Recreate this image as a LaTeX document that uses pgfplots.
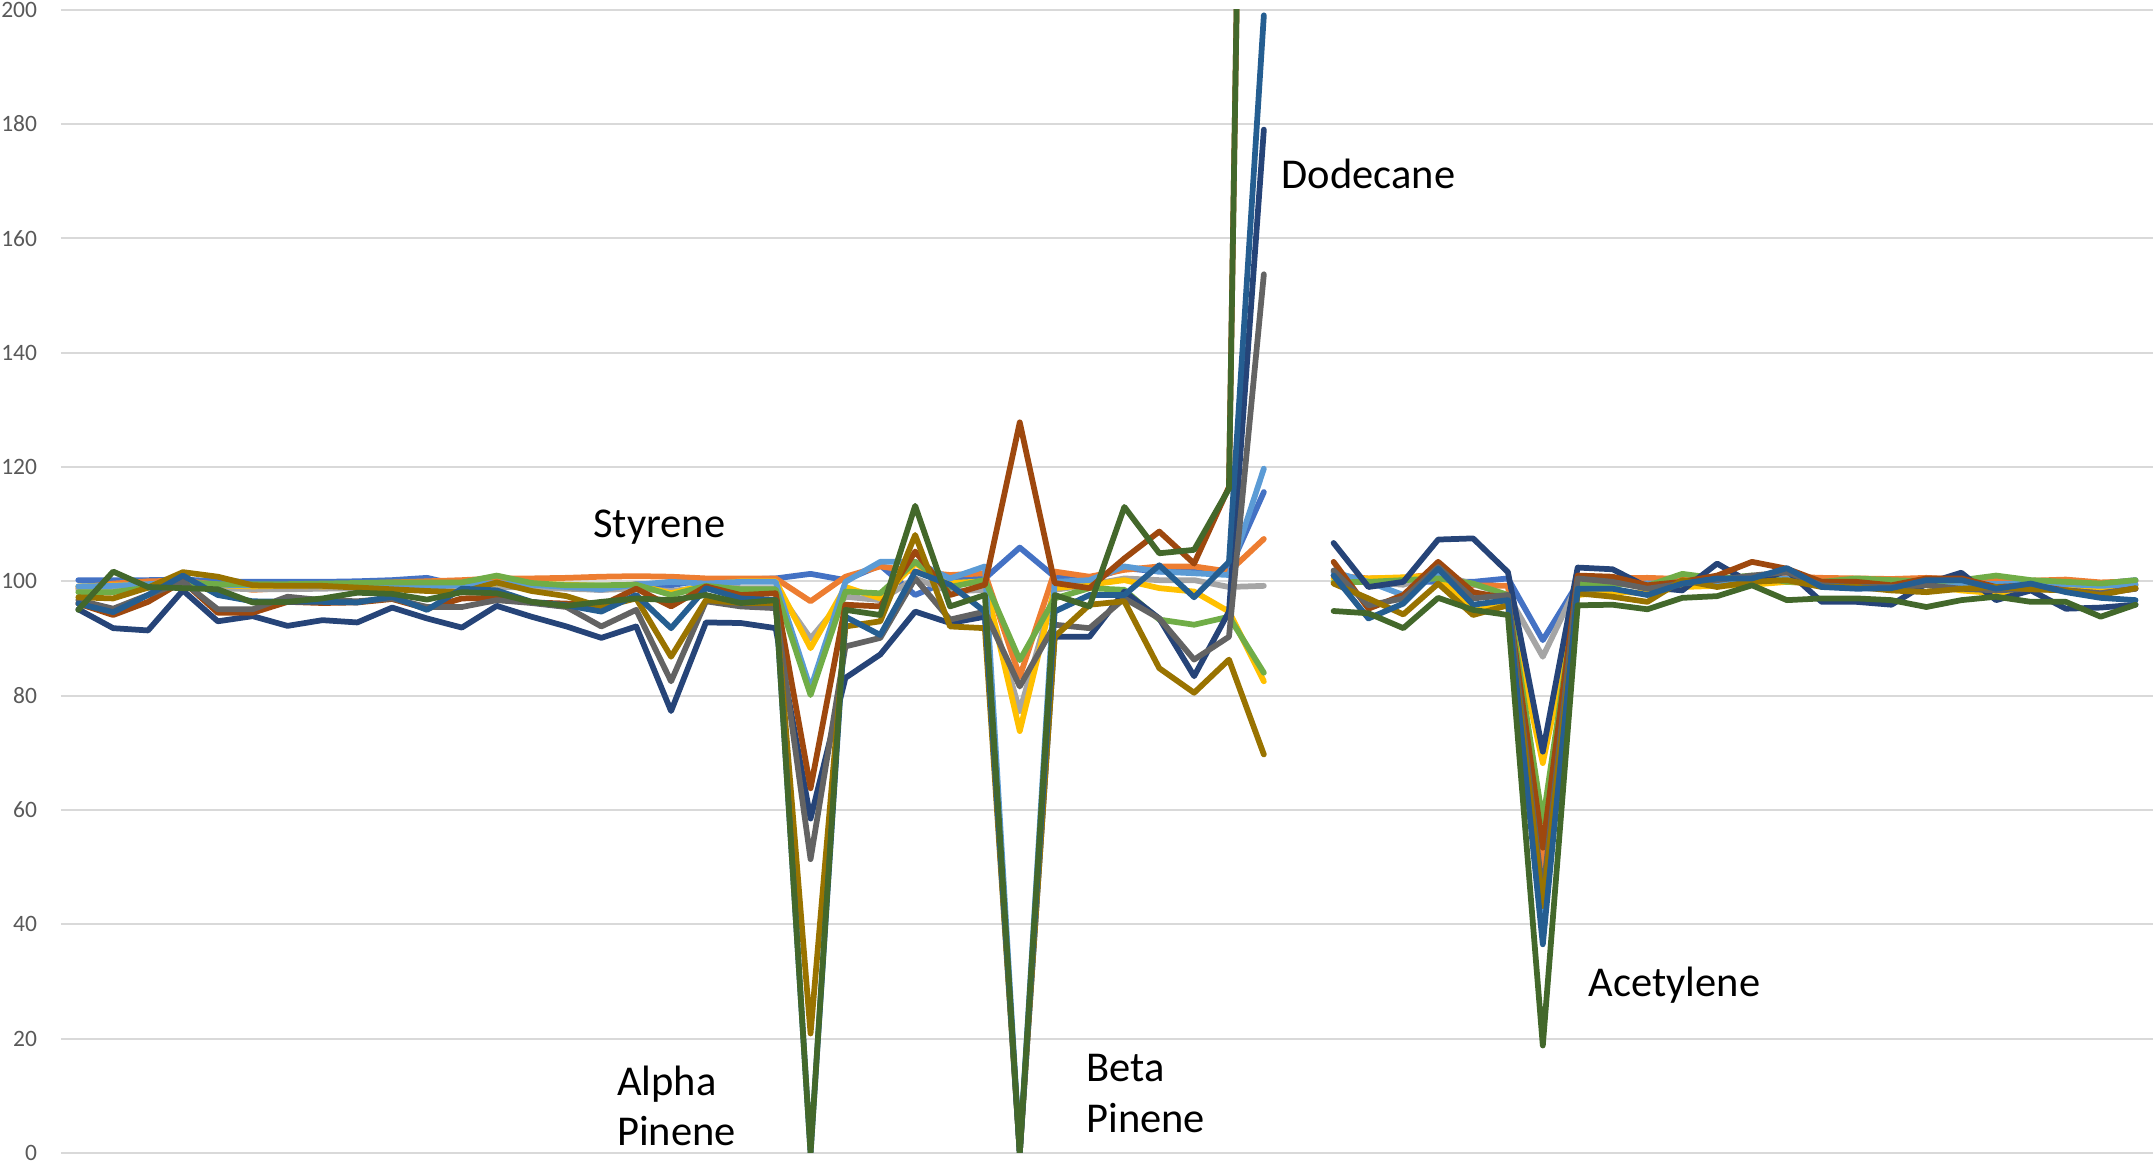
\documentclass[border=0pt]{standalone}
\usepackage{fontspec}
\setmainfont{Carlito}
\usepackage{pgfplots}
\usepackage{pgfplotstable}
\pgfplotsset{compat=1.18}
\definecolor{cA}{HTML}{4472C4}
\definecolor{cB}{HTML}{ED7D31}
\definecolor{cC}{HTML}{A5A5A5}
\definecolor{cD}{HTML}{FFC000}
\definecolor{cE}{HTML}{5B9BD5}
\definecolor{cF}{HTML}{70AD47}
\definecolor{cG}{HTML}{264478}
\definecolor{cH}{HTML}{9E480E}
\definecolor{cI}{HTML}{636363}
\definecolor{cJ}{HTML}{997300}
\definecolor{cK}{HTML}{255E91}
\definecolor{cL}{HTML}{43682B}
\definecolor{gridc}{HTML}{D9D9D9}
\definecolor{tickc}{HTML}{595959}

\pgfplotstableread{
i A B C D E F G H I J K L
0 100.2 98.8 98.5 99.1 99.1 98.1 95.1 96.1 96.7 97.2 96.1 95.0
1 100.2 99.6 98.6 99.3 99.2 98.1 91.8 94.1 95.2 97.0 94.6 101.7
2 100.2 100.0 98.8 99.4 99.5 98.9 91.4 96.4 97.6 98.9 97.6 99.0
3 100.3 100.1 99.3 99.6 99.8 99.8 98.4 100.0 99.9 101.6 101.0 98.8
4 100.0 99.4 98.8 99.3 99.4 99.5 93.0 94.5 95.1 100.8 97.6 98.6
5 99.9 98.5 98.6 99.1 99.3 99.5 93.9 94.5 95.1 99.3 96.5 96.3
6 99.9 98.8 98.6 99.2 99.3 99.5 92.2 96.4 97.3 99.2 96.4 96.4
7 99.9 99.2 98.7 99.1 99.2 99.6 93.2 96.2 96.7 99.2 96.4 97.0
8 100.0 99.6 98.8 99.2 99.3 99.7 92.8 96.3 96.5 98.9 96.3 98.0
9 100.2 99.8 98.7 99.2 99.2 99.8 95.4 96.9 97.0 98.6 97.3 97.8
10 100.6 100.0 98.6 99.4 99.0 99.8 93.5 95.2 95.5 98.3 95.0 96.8
11 99.2 100.2 98.8 99.5 99.4 99.8 91.9 97.0 95.5 98.1 98.7 98.1
12 99.2 100.5 99.0 99.6 99.7 101.0 95.7 97.1 96.7 99.8 98.4 97.9
13 99.2 100.5 98.9 99.6 99.4 99.7 93.8 96.3 96.2 98.3 96.4 96.4
14 98.9 100.6 98.7 99.4 99.0 99.3 92.1 96.1 95.5 97.4 95.8 95.7
15 98.5 100.8 98.5 99.2 98.6 99.3 90.1 95.8 92.1 95.5 94.7 96.4
16 99.5 100.9 98.7 99.4 99.4 99.4 92.1 98.7 95.0 97.0 97.6 97.0
17 99.3 100.8 98.3 97.9 99.9 97.6 77.3 95.6 82.5 86.8 91.8 96.7
18 100.3 100.5 99.0 99.4 99.6 99.2 92.8 99.1 96.5 96.7 98.8 97.6
19 100.3 100.5 98.8 100.0 99.9 98.6 92.7 97.6 95.6 96.2 97.0 96.2
20 100.5 100.5 98.8 100.0 99.9 98.6 91.8 97.9 95.3 96.2 96.7 96.7
21 101.3 96.5 90.0 88.3 81.2 80.1 58.5 63.8 51.4 20.9 0 0
22 100.2 100.8 97.3 99.0 99.9 98.2 83.1 95.9 88.6 92.1 93.8 95.0
23 102.8 102.6 96.7 97.0 103.4 97.9 87.2 95.6 90.1 93.0 90.6 94.1
24 97.6 101.7 100.5 103.1 103.4 103.4 94.7 105.2 100.5 108.1 101.7 113.2
25 100.2 101.1 98.2 99.7 100.5 99.0 92.7 97.6 93.3 92.1 99.4 95.6
26 100.5 101.4 98.5 100.0 102.6 100.2 93.8 99.4 94.7 91.8 94.7 97.6
27 105.9 83.3 77.3 73.8 0 86.2 0 127.8 81.6 0 0 0
28 100.8 101.7 98.5 98.8 99.9 97.0 90.3 99.7 92.4 90.3 94.7 97.6
29 100.2 100.8 99.4 99.4 100.2 98.8 90.3 98.8 91.8 95.9 97.6 95.6
30 102.3 102.0 100.5 100.2 102.6 98.5 98.2 104.0 97.0 96.5 97.6 113.0
31 101.7 102.6 100.2 98.8 101.7 93.3 93.5 108.7 93.5 84.8 102.8 104.9
32 101.7 102.6 100.2 98.2 101.4 92.4 83.4 103.1 86.3 80.5 97.2 105.5
33 102.0 101.7 99.0 94.7 101.1 93.8 94.7 116.5 90.3 86.3 103.4 116.2
34 115.6 107.4 99.2 82.5 119.7 84.0 179.0 500 153.7 69.7 199.0 500
35 nan nan nan nan nan nan nan nan nan nan nan nan
36 101.0 101.0 101.6 100.5 101.6 99.8 106.7 103.4 101.9 99.6 101.0 94.8
37 99.9 100.5 99.8 100.5 99.9 99.9 99.0 95.2 95.8 97.0 93.5 94.4
38 99.9 100.6 99.4 100.7 97.6 100.2 99.9 97.6 97.0 94.2 96.1 91.8
39 99.9 101.3 101.3 101.0 101.3 100.5 107.3 103.4 102.5 99.6 102.2 97.1
40 99.9 99.3 99.5 94.7 97.6 99.6 107.5 98.1 97.0 94.1 95.9 95.0
41 100.5 99.2 97.6 96.4 97.3 97.6 101.6 97.0 97.6 95.8 96.7 94.1
42 89.7 50.0 86.8 68.2 38.0 58.0 70.2 53.4 45.0 43.2 36.5 18.8
43 99.6 100.2 99.5 97.6 99.4 99.6 102.4 101.0 100.5 97.9 98.7 95.8
44 99.9 100.5 99.6 98.2 99.5 99.6 102.1 100.8 99.9 97.3 98.7 95.9
45 99.6 100.6 99.4 97.9 99.6 99.2 99.0 99.3 98.7 96.4 97.6 95.1
46 99.6 100.4 99.5 99.0 99.8 101.3 98.4 99.9 99.6 100.2 99.6 97.1
47 100.2 100.3 99.7 99.2 100.0 100.5 103.1 101.0 100.2 99.0 100.5 97.4
48 100.5 100.5 99.8 99.4 100.3 101.0 99.6 103.4 101.0 99.9 100.5 99.3
49 100.8 100.8 99.9 99.9 100.5 99.9 101.9 102.2 101.6 100.2 102.3 96.7
50 100.5 100.6 99.5 99.6 99.9 99.9 96.4 99.9 99.3 99.0 99.0 97.0
51 100.2 100.5 99.4 99.6 99.7 100.5 96.4 99.9 99.0 99.0 98.7 97.0
52 100.2 100.4 99.5 99.2 99.8 100.2 95.9 99.3 99.0 98.4 98.8 96.7
53 100.5 100.6 99.6 99.3 99.9 100.0 99.6 100.5 99.3 98.1 100.2 95.5
54 100.2 100.3 99.4 98.4 99.7 100.2 101.5 100.5 98.7 98.7 100.2 96.7
55 99.9 100.2 99.3 97.9 99.5 101.0 96.7 99.0 98.4 99.0 98.7 97.3
56 99.9 100.1 99.4 98.8 99.7 100.2 98.4 99.3 98.7 98.6 99.6 96.4
57 99.9 100.3 99.2 98.8 99.5 99.9 95.2 98.4 98.4 98.4 98.1 96.4
58 99.6 99.8 99.0 98.9 99.2 99.6 95.4 97.9 97.9 97.6 97.1 93.8
59 100.2 100.0 99.3 99.3 99.5 100.2 95.9 98.7 98.7 98.8 96.7 95.9
}\data

\begin{document}
\begin{tikzpicture}
\begin{axis}[
  scale only axis,
  width=837.1pt, height=457.5pt,
  xmin=-0.5, xmax=59.5, ymin=0, ymax=200,
  axis line style={draw=none},
  xtick=\empty,
  ytick={0,20,...,200},
  ymajorgrids,
  major grid style={color=gridc, line width=0.8pt},
  tick style={draw=none},
  /pgf/number format/assume math mode=true,
  yticklabel style={font=\fontsize{9.4}{11}\selectfont, text=tickc, xshift=-6pt},
  clip mode=individual,
  unbounded coords=jump,
  every axis plot/.append style={line width=2.3pt, line join=round, line cap=round, no markers},
]
\addplot[cA] table[x=i,y=A]{\data};
\addplot[cB] table[x=i,y=B]{\data};
\addplot[cC] table[x=i,y=C]{\data};
\addplot[cD] table[x=i,y=D]{\data};
\addplot[cE] table[x=i,y=E]{\data};
\addplot[cF] table[x=i,y=F]{\data};
\addplot[cG] table[x=i,y=G]{\data};
\addplot[cH] table[x=i,y=H]{\data};
\addplot[cI] table[x=i,y=I]{\data};
\addplot[cJ] table[x=i,y=J]{\data};
\addplot[cK] table[x=i,y=K]{\data};
\addplot[cL] table[x=i,y=L]{\data};

\node[anchor=base west, inner sep=0pt, font=\fontsize{17}{20}\selectfont] at (axis cs:14.76,107.6) {Styrene};
\node[anchor=base west, inner sep=0pt, font=\fontsize{17}{20}\selectfont] at (axis cs:34.5,168.7) {Dodecane};
\node[anchor=base west, inner sep=0pt, font=\fontsize{17}{20}\selectfont] at (axis cs:15.44,10.0) {Alpha};
\node[anchor=base west, inner sep=0pt, font=\fontsize{17}{20}\selectfont] at (axis cs:15.44,1.3) {Pinene};
\node[anchor=base west, inner sep=0pt, font=\fontsize{17}{20}\selectfont] at (axis cs:28.9,12.5) {Beta};
\node[anchor=base west, inner sep=0pt, font=\fontsize{17}{20}\selectfont] at (axis cs:28.9,3.6) {Pinene};
\node[anchor=base west, inner sep=0pt, font=\fontsize{17}{20}\selectfont] at (axis cs:43.31,27.4) {Acetylene};

\coordinate (bl) at (rel axis cs:0,0);
\coordinate (tr) at (rel axis cs:1,1);
\end{axis}
\pgfresetboundingbox
\path ([xshift=-24.36pt,yshift=-5.84pt]bl) rectangle ([yshift=3.84pt]tr);
\end{tikzpicture}
\end{document}
